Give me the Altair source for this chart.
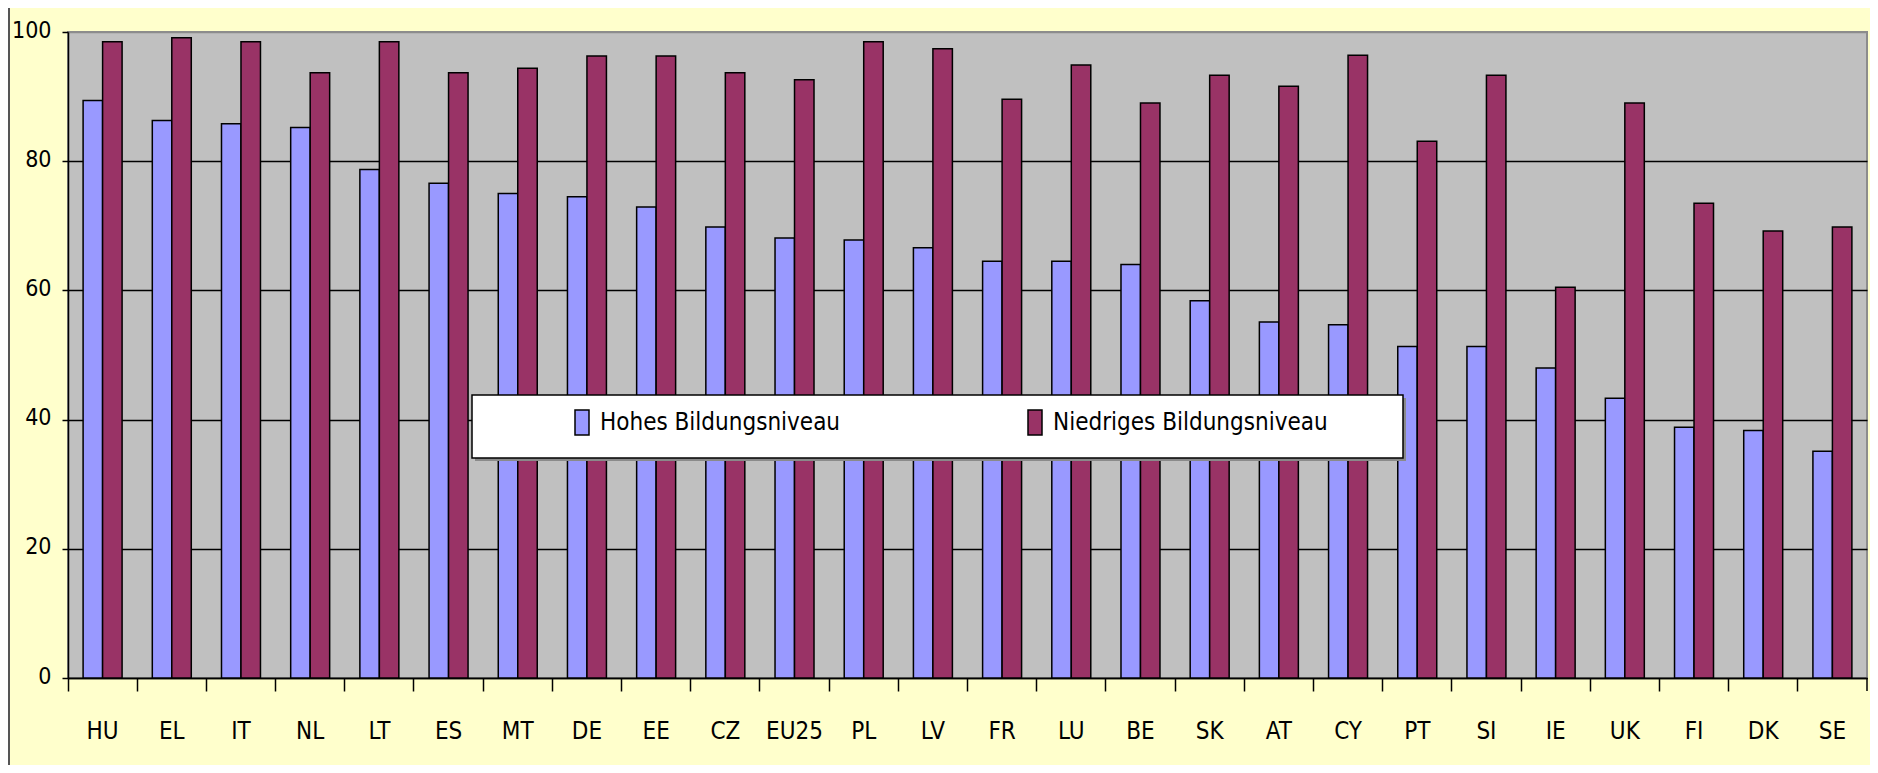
import altair as alt
import pandas as pd

countries = ["HU", "EL", "IT", "NL", "LT", "ES", "MT", "DE", "EE", "CZ", "EU25", "PL", "LV",
             "FR", "LU", "BE", "SK", "AT", "CY", "PT", "SI", "IE", "UK", "FI", "DK", "SE"]
hohes = [89.4, 86.3, 85.8, 85.2, 78.7, 76.6, 75.0, 74.5, 72.9, 69.8, 68.1, 67.8, 66.6,
         64.5, 64.5, 64.0, 58.4, 55.1, 54.7, 51.3, 51.3, 48.0, 43.3, 38.8, 38.3, 35.1]
niedrig = [98.5, 99.1, 98.5, 93.7, 98.5, 93.7, 94.4, 96.3, 96.3, 93.7, 92.6, 98.5, 97.4,
           89.6, 94.9, 89.0, 93.3, 91.6, 96.4, 83.1, 93.3, 60.5, 89.0, 73.5, 69.2, 69.8]
series = ["Hohes Bildungsniveau", "Niedriges Bildungsniveau"]
colors = ["#9999FF", "#993366"]
y_ticks = [0, 20, 40, 60, 80, 100]

rows = []
for c, h, n in zip(countries, hohes, niedrig):
    rows.append({"Land": c, "Reihe": series[0], "Wert": h})
    rows.append({"Land": c, "Reihe": series[1], "Wert": n})
df = pd.DataFrame(rows)

FONT = "Liberation Sans Narrow, DejaVu Sans Condensed, sans-serif"
W, H = 1799, 646

bars = alt.Chart(df).mark_bar(stroke="black", strokeWidth=1.5).encode(
    x=alt.X(
        "Land:N", sort=countries,
        scale=alt.Scale(paddingInner=0, paddingOuter=0),
        axis=alt.Axis(title=None, labelAngle=0, bandPosition=0,
                      tickSize=13, tickWidth=1.5, tickColor="black",
                      domainColor="black", domainWidth=1.5,
                      labelFont=FONT, labelFontSize=24, labelColor="black",
                      labelPadding=28, grid=False),
    ),
    xOffset=alt.XOffset("Reihe:N", sort=series,
                        scale=alt.Scale(paddingInner=0, paddingOuter=0.775)),
    y=alt.Y(
        "Wert:Q",
        scale=alt.Scale(domain=[0, 100], nice=False),
        axis=alt.Axis(title=None, values=y_ticks, grid=True,
                      gridColor={"condition": {"test": "datum.value == 100", "value": "#8c8c8c"},
                                 "value": "black"},
                      gridWidth=1.5, tickSize=6, tickWidth=1.5, tickColor="black",
                      domainColor="black", domainWidth=1.5,
                      labelFont=FONT, labelFontSize=23, labelColor="black",
                      labelPadding=11, labelOffset=-2),
    ),
    color=alt.Color(
        "Reihe:N", sort=series,
        scale=alt.Scale(domain=series, range=colors),
        legend=alt.Legend(title=None, orient="none", legendX=500.5, legendY=377,
                          direction="horizontal",
                          symbolType="M-0.56,-1L0.56,-1L0.56,1L-0.56,1Z",
                          symbolSize=625, symbolStrokeColor="black", symbolStrokeWidth=1.5,
                          labelFont=FONT, labelFontSize=24, labelColor="black",
                          labelOffset=4.5, labelLimit=500, columnPadding=181,
                          padding=0),
    ),
)

one = pd.DataFrame({"k": [0]})
shadow = alt.Chart(one).mark_rect(fill="#8a8a8a").encode(
    x=alt.value(407), x2=alt.value(1338), y=alt.value(366), y2=alt.value(429))
box = alt.Chart(one).mark_rect(fill="white", stroke="black", strokeWidth=1.5).encode(
    x=alt.value(404), x2=alt.value(1335), y=alt.value(363), y2=alt.value(426))
border = alt.Chart(one).mark_rule(color="#555555", strokeWidth=2).encode(
    x=alt.value(-59), y=alt.value(-24), y2=alt.value(733))
end_tick = alt.Chart(one).mark_rule(color="black", strokeWidth=1.5).encode(
    x=alt.value(W), y=alt.value(H), y2=alt.value(H + 13))

chart = alt.layer(bars, shadow, box, border, end_tick).properties(
    width=W, height=H,
    autosize=alt.AutoSizeParams(type="none"),
    padding={"left": 60, "top": 24, "right": 3, "bottom": 87},
).configure(background="#FFFFCC").configure_view(
    fill="#C0C0C0", stroke="#8c8c8c", strokeWidth=2)

chart.save("out.html", embed_options={"renderer": "svg", "actions": False})
